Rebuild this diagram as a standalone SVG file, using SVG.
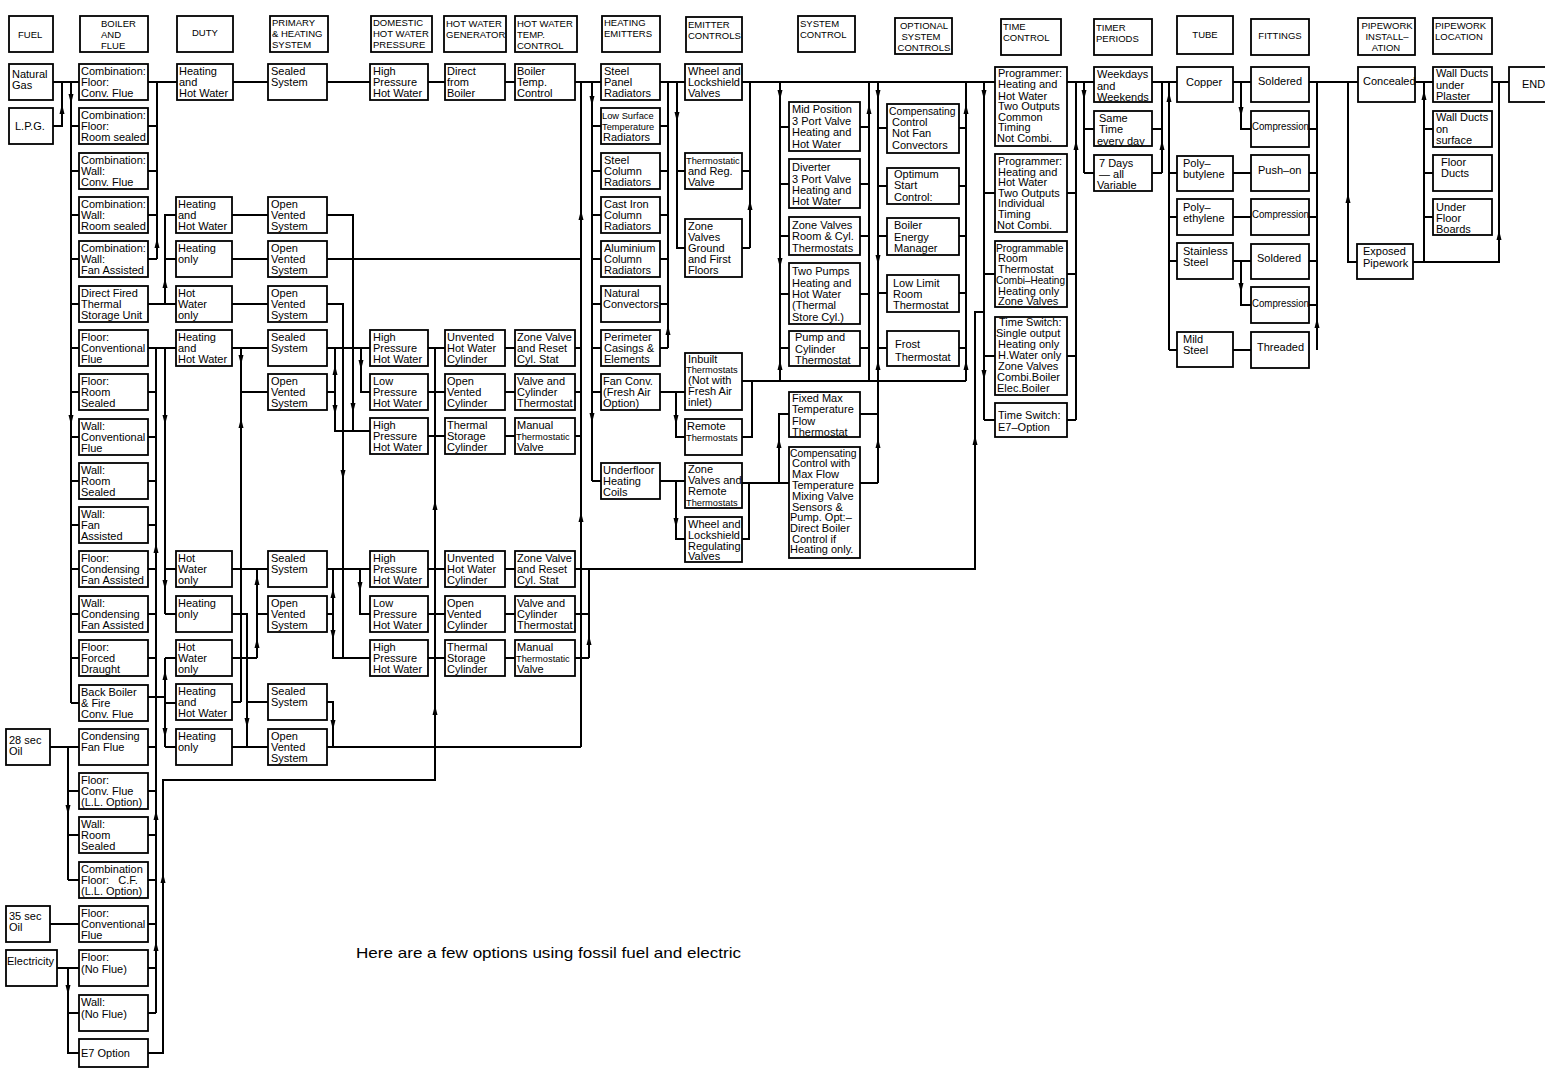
<svg xmlns="http://www.w3.org/2000/svg" xmlns:xlink="http://www.w3.org/1999/xlink" width="1545" height="1074" viewBox="0 0 1545 1074">
<style>
rect{fill:#fff;stroke:#000;stroke-width:1.8}
text{font-family:"Liberation Sans",Arial,sans-serif;font-size:11px;fill:#000}
.h{font-size:9.5px}
.s{font-size:9.3px}
.m{font-size:10.3px}
.cap{font-size:14.5px}
.c path{fill:none;stroke:#000;stroke-width:2}
.ar use{fill:#000}
</style>
<defs>
<path id="ad" d="M-2.5,-10 L2.5,-10 L0,0 Z"/>
<path id="au" d="M-2.5,10 L2.5,10 L0,0 Z"/>
</defs>
<rect x="0" y="0" width="1545" height="1074" style="stroke:none"/>
<g id="connectors" class="c">
<path d="M53,82H79 M53,126H62V82 M71,82V703 M71,126H79 M71,171H79 M71,215H79 M71,259H79 M71,304H79 M71,348H79 M71,392H79 M71,437H79 M71,481H79 M71,525H79 M71,569H79 M71,614H79 M71,658H79 M71,703H79"/>
<path d="M50,747H79 M68,747V880 M68,791H79 M68,835H79 M68,880H79 M50,924H79 M57,968H79 M68,968V1053H79 M68,1013H79"/>
<path d="M148,82H177 M157,82V259 M148,126H157 M148,171H157 M148,215H157 M148,259H157"/>
<path d="M148,304H176 M165,304V215H176 M165,259H176"/>
<path d="M148,348H176 M156,348V1013 M148,392H156 M148,437H156 M148,481H156 M148,525H156 M148,569H156 M148,614H156 M148,658H156 M148,747H156 M148,791H156 M148,835H156 M148,880H156 M148,924H156 M148,968H156 M148,1013H156"/>
<path d="M165,348V614 M165,569H176 M165,614H176"/>
<path d="M148,697H165 M165,658V747 M165,658H176 M165,703H176 M165,747H176"/>
<path d="M148,1053H163V780H435V348"/>
<path d="M233,82H270 M232,215H268 M232,259H268 M232,304H268"/>
<path d="M232,348H268 M241,348V702 M241,392H268 M232,569H268 M232,702H241"/>
<path d="M257,569V658 M257,614H268 M232,658H257"/>
<path d="M232,614H247V747 M247,702H268 M232,747H268"/>
<path d="M327,702H333V747 M327,747H581"/>
<path d="M327,82H370 M327,215H353V431 M327,259H581 M327,304H343V658"/>
<path d="M327,348H370 M335,348V431H370 M327,392H335 M361,348V392H370"/>
<path d="M327,569H370 M333,569V658H370 M327,614H333 M360,569V614H370"/>
<path d="M428,82H445 M505,82H515 M575,82H601 M428,348H445 M428,392H445 M428,436H445 M428,569H445 M428,614H445 M428,658H445 M505,348H515 M505,392H515 M505,436H515 M505,569H515 M505,614H515 M505,658H515"/>
<path d="M575,348H581 M575,392H581 M575,436H581 M581,82V747 M575,569H975V312H984 M589,569V658 M575,614H589 M575,658H589"/>
<path d="M592,82V481 M592,126H601 M592,171H601 M592,215H601 M592,259H601 M592,304H601 M592,348H601 M592,392H601 M592,481H601"/>
<path d="M660,82H685 M668,82V348 M660,126H668 M660,171H668 M660,215H668 M660,259H668 M660,304H668 M660,348H668 M677,82V248H685 M677,171H685"/>
<path d="M742,82H995 M750,82V248 M742,171H750 M742,248H750"/>
<path d="M660,392H685 M676,392V437H685 M742,381H966 M742,437H752V381 M660,481H685 M676,481V539H685 M742,483H789 M742,539H749V483 M779,483V414H789"/>
<path d="M780,82V381 M780,127H789 M780,184H789 M780,236H789 M780,294H789 M780,348H789 M869,82V381 M860,127H869 M860,184H869 M860,236H869 M860,294H869 M860,348H869"/>
<path d="M860,414H878 M860,483H878 M878,82V483 M878,128H887 M878,186H887 M878,236H887 M878,293H887 M878,348H887 M966,82V381 M959,128H966 M959,186H966 M959,236H966 M959,293H966 M959,348H966"/>
<path d="M984,82V420 M984,193H995 M984,274H995 M984,356H995 M984,420H995 M1067,82H1094 M1076,82V420 M1067,193H1076 M1067,274H1076 M1067,356H1076 M1067,420H1076"/>
<path d="M1084,82V173 M1084,129H1094 M1084,173H1094 M1152,82H1177 M1162,82V173 M1152,129H1162 M1152,173H1162"/>
<path d="M1169,82V350 M1169,173H1177 M1169,217H1177 M1169,261H1177 M1169,350H1177 M1233,82H1251 M1241,82V129H1251 M1233,173H1251 M1233,217H1251 M1233,261H1251 M1241,261V305H1251 M1233,350H1251"/>
<path d="M1309,82H1358 M1317,82V350 M1309,129H1317 M1309,173H1317 M1309,217H1317 M1309,261H1317 M1309,305H1317 M1348,82V262H1357"/>
<path d="M1415,82H1433 M1413,262H1499V82 M1424,82V262 M1424,129H1433 M1424,173H1433 M1424,217H1433 M1492,82H1509"/>
<g class="ar">
<use xlink:href="#ad" x="71" y="104"/><use xlink:href="#ad" x="71" y="425"/><use xlink:href="#ad" x="68" y="815"/><use xlink:href="#ad" x="68" y="995"/>
<use xlink:href="#ad" x="165" y="425"/><use xlink:href="#ad" x="165" y="590"/><use xlink:href="#ad" x="165" y="738"/><use xlink:href="#ad" x="241" y="365"/>
<use xlink:href="#ad" x="247" y="728"/><use xlink:href="#ad" x="333" y="730"/><use xlink:href="#ad" x="353" y="413"/><use xlink:href="#ad" x="343" y="480"/>
<use xlink:href="#ad" x="335" y="415"/><use xlink:href="#ad" x="361" y="370"/><use xlink:href="#ad" x="333" y="640"/><use xlink:href="#ad" x="360" y="592"/>
<use xlink:href="#ad" x="592" y="106"/><use xlink:href="#ad" x="592" y="423"/><use xlink:href="#ad" x="677" y="122"/><use xlink:href="#ad" x="676" y="425"/>
<use xlink:href="#ad" x="676" y="528"/><use xlink:href="#ad" x="780" y="100"/><use xlink:href="#ad" x="780" y="268"/><use xlink:href="#ad" x="878" y="100"/>
<use xlink:href="#ad" x="878" y="265"/><use xlink:href="#ad" x="984" y="100"/><use xlink:href="#ad" x="984" y="380"/><use xlink:href="#ad" x="1084" y="100"/>
<use xlink:href="#ad" x="1241" y="117"/><use xlink:href="#ad" x="1241" y="293"/>
<use xlink:href="#au" x="62" y="104"/><use xlink:href="#au" x="157" y="238"/><use xlink:href="#au" x="165" y="278"/><use xlink:href="#au" x="156" y="543"/>
<use xlink:href="#au" x="156" y="810"/><use xlink:href="#au" x="156" y="941"/><use xlink:href="#au" x="165" y="670"/><use xlink:href="#au" x="163" y="873"/>
<use xlink:href="#au" x="435" y="705"/><use xlink:href="#au" x="435" y="500"/><use xlink:href="#au" x="241" y="418"/><use xlink:href="#au" x="257" y="575"/>
<use xlink:href="#au" x="257" y="638"/><use xlink:href="#au" x="335" y="365"/><use xlink:href="#au" x="333" y="588"/><use xlink:href="#au" x="589" y="635"/>
<use xlink:href="#au" x="581" y="210"/><use xlink:href="#au" x="581" y="512"/><use xlink:href="#au" x="975" y="435"/><use xlink:href="#au" x="668" y="325"/>
<use xlink:href="#au" x="750" y="200"/><use xlink:href="#au" x="779" y="438"/><use xlink:href="#au" x="780" y="360"/><use xlink:href="#au" x="869" y="104"/>
<use xlink:href="#au" x="878" y="360"/><use xlink:href="#au" x="878" y="438"/><use xlink:href="#au" x="966" y="104"/><use xlink:href="#au" x="966" y="360"/>
<use xlink:href="#au" x="1076" y="140"/><use xlink:href="#au" x="1162" y="140"/><use xlink:href="#au" x="1169" y="92"/><use xlink:href="#au" x="1317" y="318"/>
<use xlink:href="#au" x="1348" y="193"/><use xlink:href="#au" x="1424" y="90"/><use xlink:href="#au" x="1499" y="230"/>
</g>
</g>
<g id="headers">
<g id="h-fuel"><rect x="9" y="16" width="44" height="36"/><text class="h" x="18" y="38">FUEL</text></g>
<g id="h-boiler"><rect x="80" y="16" width="68" height="36"/><text class="h"><tspan x="101" y="27">BOILER</tspan><tspan x="101" y="38">AND</tspan><tspan x="101" y="49">FLUE</tspan></text></g>
<g id="h-duty"><rect x="177" y="16" width="56" height="36"/><text class="h" x="192" y="36">DUTY</text></g>
<g id="h-primary"><rect x="270" y="16" width="58" height="36"/><text class="h"><tspan x="272" y="26">PRIMARY</tspan><tspan x="272" y="37">&amp; HEATING</tspan><tspan x="272" y="48">SYSTEM</tspan></text></g>
<g id="h-dhw"><rect x="371" y="16" width="61" height="36"/><text class="h"><tspan x="373" y="26">DOMESTIC</tspan><tspan x="373" y="37">HOT WATER</tspan><tspan x="373" y="48">PRESSURE</tspan></text></g>
<g id="h-gen"><rect x="444" y="16" width="62" height="36"/><text class="h"><tspan x="446" y="27">HOT WATER</tspan><tspan x="446" y="38">GENERATOR</tspan></text></g>
<g id="h-temp"><rect x="515" y="16" width="62" height="36"/><text class="h"><tspan x="517" y="27">HOT WATER</tspan><tspan x="517" y="38">TEMP.</tspan><tspan x="517" y="49">CONTROL</tspan></text></g>
<g id="h-emit"><rect x="602" y="16" width="58" height="36"/><text class="h"><tspan x="604" y="26">HEATING</tspan><tspan x="604" y="37">EMITTERS</tspan></text></g>
<g id="h-ectl"><rect x="686" y="17" width="56" height="35"/><text class="h"><tspan x="688" y="28">EMITTER</tspan><tspan x="688" y="39">CONTROLS</tspan></text></g>
<g id="h-sys"><rect x="798" y="16" width="57" height="36"/><text class="h"><tspan x="800" y="27">SYSTEM</tspan><tspan x="800" y="38">CONTROL</tspan></text></g>
<g id="h-opt"><rect x="895" y="18" width="57" height="36"/><text class="h" text-anchor="middle"><tspan x="924" y="29">OPTIONAL</tspan><tspan x="921" y="40">SYSTEM</tspan><tspan x="924" y="51">CONTROLS</tspan></text></g>
<g id="h-time"><rect x="1001" y="19" width="60" height="36"/><text class="h"><tspan x="1003" y="30">TIME</tspan><tspan x="1003" y="41">CONTROL</tspan></text></g>
<g id="h-timer"><rect x="1094" y="19" width="58" height="36"/><text class="h"><tspan x="1096" y="31">TIMER</tspan><tspan x="1096" y="42">PERIODS</tspan></text></g>
<g id="h-tube"><rect x="1177" y="16" width="56" height="38"/><text class="h" x="1205" y="38" text-anchor="middle">TUBE</text></g>
<g id="h-fit"><rect x="1251" y="19" width="58" height="36"/><text class="h" x="1280" y="39" text-anchor="middle">FITTINGS</text></g>
<g id="h-pinst"><rect x="1358" y="18" width="57" height="37"/><text class="h" text-anchor="middle"><tspan x="1387" y="29">PIPEWORK</tspan><tspan x="1387" y="40">INSTALL–</tspan><tspan x="1386" y="51">ATION</tspan></text></g>
<g id="h-ploc"><rect x="1433" y="18" width="59" height="36"/><text class="h"><tspan x="1435" y="29">PIPEWORK</tspan><tspan x="1435" y="40">LOCATION</tspan></text></g>
</g>
<g id="fuel">
<g id="f-ng"><rect x="9" y="64" width="44" height="36"/><text><tspan x="12" y="78">Natural</tspan><tspan x="12" y="89">Gas</tspan></text></g>
<g id="f-lpg"><rect x="9" y="108" width="44" height="36"/><text x="15" y="130">L.P.G.</text></g>
<g id="f-28"><rect x="6" y="729" width="44" height="36"/><text><tspan x="9" y="744">28 sec</tspan><tspan x="9" y="755">Oil</tspan></text></g>
<g id="f-35"><rect x="6" y="906" width="44" height="36"/><text><tspan x="9" y="920">35 sec</tspan><tspan x="9" y="931">Oil</tspan></text></g>
<g id="f-el"><rect x="6" y="950" width="51" height="36"/><text x="7" y="965">Electricity</text></g>
</g>
<g id="boilers">
<g id="b01"><rect x="79" y="64" width="69" height="36"/><text><tspan x="81" y="75">Combination:</tspan><tspan x="81" y="86">Floor:</tspan><tspan x="81" y="97">Conv. Flue</tspan></text></g>
<g id="b02"><rect x="79" y="108" width="69" height="36"/><text><tspan x="81" y="119">Combination:</tspan><tspan x="81" y="130">Floor:</tspan><tspan x="81" y="141">Room sealed</tspan></text></g>
<g id="b03"><rect x="79" y="153" width="69" height="36"/><text><tspan x="81" y="164">Combination:</tspan><tspan x="81" y="175">Wall:</tspan><tspan x="81" y="186">Conv. Flue</tspan></text></g>
<g id="b04"><rect x="79" y="197" width="69" height="36"/><text><tspan x="81" y="208">Combination:</tspan><tspan x="81" y="219">Wall:</tspan><tspan x="81" y="230">Room sealed</tspan></text></g>
<g id="b05"><rect x="79" y="241" width="69" height="36"/><text><tspan x="81" y="252">Combination:</tspan><tspan x="81" y="263">Wall:</tspan><tspan x="81" y="274">Fan Assisted</tspan></text></g>
<g id="b06"><rect x="79" y="286" width="69" height="36"/><text><tspan x="81" y="297">Direct Fired</tspan><tspan x="81" y="308">Thermal</tspan><tspan x="81" y="319">Storage Unit</tspan></text></g>
<g id="b07"><rect x="79" y="330" width="69" height="36"/><text><tspan x="81" y="341">Floor:</tspan><tspan x="81" y="352">Conventional</tspan><tspan x="81" y="363">Flue</tspan></text></g>
<g id="b08"><rect x="79" y="374" width="69" height="36"/><text><tspan x="81" y="385">Floor:</tspan><tspan x="81" y="396">Room</tspan><tspan x="81" y="407">Sealed</tspan></text></g>
<g id="b09"><rect x="79" y="419" width="69" height="36"/><text><tspan x="81" y="430">Wall:</tspan><tspan x="81" y="441">Conventional</tspan><tspan x="81" y="452">Flue</tspan></text></g>
<g id="b10"><rect x="79" y="463" width="69" height="36"/><text><tspan x="81" y="474">Wall:</tspan><tspan x="81" y="485">Room</tspan><tspan x="81" y="496">Sealed</tspan></text></g>
<g id="b11"><rect x="79" y="507" width="69" height="36"/><text><tspan x="81" y="518">Wall:</tspan><tspan x="81" y="529">Fan</tspan><tspan x="81" y="540">Assisted</tspan></text></g>
<g id="b12"><rect x="79" y="551" width="69" height="36"/><text><tspan x="81" y="562">Floor:</tspan><tspan x="81" y="573">Condensing</tspan><tspan x="81" y="584">Fan Assisted</tspan></text></g>
<g id="b13"><rect x="79" y="596" width="69" height="36"/><text><tspan x="81" y="607">Wall:</tspan><tspan x="81" y="618">Condensing</tspan><tspan x="81" y="629">Fan Assisted</tspan></text></g>
<g id="b14"><rect x="79" y="640" width="69" height="36"/><text><tspan x="81" y="651">Floor:</tspan><tspan x="81" y="662">Forced</tspan><tspan x="81" y="673">Draught</tspan></text></g>
<g id="b15"><rect x="79" y="685" width="69" height="36"/><text><tspan x="81" y="696">Back Boiler</tspan><tspan x="81" y="707">&amp; Fire</tspan><tspan x="81" y="718">Conv. Flue</tspan></text></g>
<g id="b16"><rect x="79" y="729" width="69" height="36"/><text><tspan x="81" y="740">Condensing</tspan><tspan x="81" y="751">Fan Flue</tspan></text></g>
<g id="b17"><rect x="79" y="773" width="69" height="36"/><text><tspan x="81" y="784">Floor:</tspan><tspan x="81" y="795">Conv. Flue</tspan><tspan x="81" y="806">(L.L. Option)</tspan></text></g>
<g id="b18"><rect x="79" y="817" width="69" height="36"/><text><tspan x="81" y="828">Wall:</tspan><tspan x="81" y="839">Room</tspan><tspan x="81" y="850">Sealed</tspan></text></g>
<g id="b19"><rect x="79" y="862" width="69" height="36"/><text><tspan x="81" y="873">Combination</tspan><tspan x="81" y="884">Floor:&#160;&#160;&#160;C.F.</tspan><tspan x="81" y="895">(L.L. Option)</tspan></text></g>
<g id="b20"><rect x="79" y="906" width="69" height="36"/><text><tspan x="81" y="917">Floor:</tspan><tspan x="81" y="928">Conventional</tspan><tspan x="81" y="939">Flue</tspan></text></g>
<g id="b21"><rect x="79" y="950" width="69" height="36"/><text><tspan x="81" y="961">Floor:</tspan><tspan x="81" y="973">(No Flue)</tspan></text></g>
<g id="b22"><rect x="79" y="995" width="69" height="36"/><text><tspan x="81" y="1006">Wall:</tspan><tspan x="81" y="1018">(No Flue)</tspan></text></g>
<g id="b23"><rect x="79" y="1039" width="69" height="28"/><text x="81" y="1057">E7 Option</text></g>
</g>
<g id="duty">
<g id="d01"><rect x="177" y="64" width="56" height="36"/><text><tspan x="179" y="75">Heating</tspan><tspan x="179" y="86">and</tspan><tspan x="179" y="97">Hot Water</tspan></text></g>
<g id="d02"><rect x="176" y="197" width="56" height="36"/><text><tspan x="178" y="208">Heating</tspan><tspan x="178" y="219">and</tspan><tspan x="178" y="230">Hot Water</tspan></text></g>
<g id="d03"><rect x="176" y="241" width="56" height="36"/><text><tspan x="178" y="252">Heating</tspan><tspan x="178" y="263">only</tspan></text></g>
<g id="d04"><rect x="176" y="286" width="56" height="36"/><text><tspan x="178" y="297">Hot</tspan><tspan x="178" y="308">Water</tspan><tspan x="178" y="319">only</tspan></text></g>
<g id="d05"><rect x="176" y="330" width="56" height="36"/><text><tspan x="178" y="341">Heating</tspan><tspan x="178" y="352">and</tspan><tspan x="178" y="363">Hot Water</tspan></text></g>
<g id="d06"><rect x="176" y="551" width="56" height="36"/><text><tspan x="178" y="562">Hot</tspan><tspan x="178" y="573">Water</tspan><tspan x="178" y="584">only</tspan></text></g>
<g id="d07"><rect x="176" y="596" width="56" height="36"/><text><tspan x="178" y="607">Heating</tspan><tspan x="178" y="618">only</tspan></text></g>
<g id="d08"><rect x="176" y="640" width="56" height="36"/><text><tspan x="178" y="651">Hot</tspan><tspan x="178" y="662">Water</tspan><tspan x="178" y="673">only</tspan></text></g>
<g id="d09"><rect x="176" y="684" width="56" height="36"/><text><tspan x="178" y="695">Heating</tspan><tspan x="178" y="706">and</tspan><tspan x="178" y="717">Hot Water</tspan></text></g>
<g id="d10"><rect x="176" y="729" width="56" height="36"/><text><tspan x="178" y="740">Heating</tspan><tspan x="178" y="751">only</tspan></text></g>
</g>
<g id="primary">
<g id="p01"><rect x="268" y="64" width="59" height="36"/><text><tspan x="271" y="75">Sealed</tspan><tspan x="271" y="86">System</tspan></text></g>
<g id="p02"><rect x="268" y="197" width="59" height="36"/><text><tspan x="271" y="208">Open</tspan><tspan x="271" y="219">Vented</tspan><tspan x="271" y="230">System</tspan></text></g>
<g id="p03"><rect x="268" y="241" width="59" height="36"/><text><tspan x="271" y="252">Open</tspan><tspan x="271" y="263">Vented</tspan><tspan x="271" y="274">System</tspan></text></g>
<g id="p04"><rect x="268" y="286" width="59" height="36"/><text><tspan x="271" y="297">Open</tspan><tspan x="271" y="308">Vented</tspan><tspan x="271" y="319">System</tspan></text></g>
<g id="p05"><rect x="268" y="330" width="59" height="36"/><text><tspan x="271" y="341">Sealed</tspan><tspan x="271" y="352">System</tspan></text></g>
<g id="p06"><rect x="268" y="374" width="59" height="36"/><text><tspan x="271" y="385">Open</tspan><tspan x="271" y="396">Vented</tspan><tspan x="271" y="407">System</tspan></text></g>
<g id="p07"><rect x="268" y="551" width="59" height="36"/><text><tspan x="271" y="562">Sealed</tspan><tspan x="271" y="573">System</tspan></text></g>
<g id="p08"><rect x="268" y="596" width="59" height="36"/><text><tspan x="271" y="607">Open</tspan><tspan x="271" y="618">Vented</tspan><tspan x="271" y="629">System</tspan></text></g>
<g id="p09"><rect x="268" y="684" width="59" height="36"/><text><tspan x="271" y="695">Sealed</tspan><tspan x="271" y="706">System</tspan></text></g>
<g id="p10"><rect x="268" y="729" width="59" height="36"/><text><tspan x="271" y="740">Open</tspan><tspan x="271" y="751">Vented</tspan><tspan x="271" y="762">System</tspan></text></g>
</g>
<g id="dhw">
<g id="w01"><rect x="370" y="64" width="58" height="36"/><text><tspan x="373" y="75">High</tspan><tspan x="373" y="86">Pressure</tspan><tspan x="373" y="97">Hot Water</tspan></text></g>
<g id="w02"><rect x="370" y="330" width="58" height="36"/><text><tspan x="373" y="341">High</tspan><tspan x="373" y="352">Pressure</tspan><tspan x="373" y="363">Hot Water</tspan></text></g>
<g id="w03"><rect x="370" y="374" width="58" height="36"/><text><tspan x="373" y="385">Low</tspan><tspan x="373" y="396">Pressure</tspan><tspan x="373" y="407">Hot Water</tspan></text></g>
<g id="w04"><rect x="370" y="418" width="58" height="36"/><text><tspan x="373" y="429">High</tspan><tspan x="373" y="440">Pressure</tspan><tspan x="373" y="451">Hot Water</tspan></text></g>
<g id="w05"><rect x="370" y="551" width="58" height="36"/><text><tspan x="373" y="562">High</tspan><tspan x="373" y="573">Pressure</tspan><tspan x="373" y="584">Hot Water</tspan></text></g>
<g id="w06"><rect x="370" y="596" width="58" height="36"/><text><tspan x="373" y="607">Low</tspan><tspan x="373" y="618">Pressure</tspan><tspan x="373" y="629">Hot Water</tspan></text></g>
<g id="w07"><rect x="370" y="640" width="58" height="36"/><text><tspan x="373" y="651">High</tspan><tspan x="373" y="662">Pressure</tspan><tspan x="373" y="673">Hot Water</tspan></text></g>
</g>
<g id="generator">
<g id="g01"><rect x="445" y="64" width="60" height="36"/><text><tspan x="447" y="75">Direct</tspan><tspan x="447" y="86">from</tspan><tspan x="447" y="97">Boiler</tspan></text></g>
<g id="g02"><rect x="445" y="330" width="60" height="36"/><text><tspan x="447" y="341">Unvented</tspan><tspan x="447" y="352">Hot Water</tspan><tspan x="447" y="363">Cylinder</tspan></text></g>
<g id="g03"><rect x="445" y="374" width="60" height="36"/><text><tspan x="447" y="385">Open</tspan><tspan x="447" y="396">Vented</tspan><tspan x="447" y="407">Cylinder</tspan></text></g>
<g id="g04"><rect x="445" y="418" width="60" height="36"/><text><tspan x="447" y="429">Thermal</tspan><tspan x="447" y="440">Storage</tspan><tspan x="447" y="451">Cylinder</tspan></text></g>
<g id="g05"><rect x="445" y="551" width="60" height="36"/><text><tspan x="447" y="562">Unvented</tspan><tspan x="447" y="573">Hot Water</tspan><tspan x="447" y="584">Cylinder</tspan></text></g>
<g id="g06"><rect x="445" y="596" width="60" height="36"/><text><tspan x="447" y="607">Open</tspan><tspan x="447" y="618">Vented</tspan><tspan x="447" y="629">Cylinder</tspan></text></g>
<g id="g07"><rect x="445" y="640" width="60" height="36"/><text><tspan x="447" y="651">Thermal</tspan><tspan x="447" y="662">Storage</tspan><tspan x="447" y="673">Cylinder</tspan></text></g>
</g>
<g id="tempcontrol">
<g id="t01"><rect x="515" y="64" width="60" height="36"/><text><tspan x="517" y="75">Boiler</tspan><tspan x="517" y="86">Temp.</tspan><tspan x="517" y="97">Control</tspan></text></g>
<g id="t02"><rect x="515" y="330" width="60" height="36"/><text><tspan x="517" y="341">Zone Valve</tspan><tspan x="517" y="352">and Reset</tspan><tspan x="517" y="363">Cyl. Stat</tspan></text></g>
<g id="t03"><rect x="515" y="374" width="60" height="36"/><text><tspan x="517" y="385">Valve and</tspan><tspan x="517" y="396">Cylinder</tspan><tspan x="517" y="407">Thermostat</tspan></text></g>
<g id="t04"><rect x="515" y="418" width="60" height="36"/><text><tspan x="517" y="429">Manual</tspan><tspan class="s" x="516" y="440">Thermostatic</tspan><tspan x="517" y="451">Valve</tspan></text></g>
<g id="t05"><rect x="515" y="551" width="60" height="36"/><text><tspan x="517" y="562">Zone Valve</tspan><tspan x="517" y="573">and Reset</tspan><tspan x="517" y="584">Cyl. Stat</tspan></text></g>
<g id="t06"><rect x="515" y="596" width="60" height="36"/><text><tspan x="517" y="607">Valve and</tspan><tspan x="517" y="618">Cylinder</tspan><tspan x="517" y="629">Thermostat</tspan></text></g>
<g id="t07"><rect x="515" y="640" width="60" height="36"/><text><tspan x="517" y="651">Manual</tspan><tspan class="s" x="516" y="662">Thermostatic</tspan><tspan x="517" y="673">Valve</tspan></text></g>
</g>
<g id="emitters">
<g id="e01"><rect x="601" y="64" width="59" height="36"/><text><tspan x="604" y="75">Steel</tspan><tspan x="604" y="86">Panel</tspan><tspan x="604" y="97">Radiators</tspan></text></g>
<g id="e02"><rect x="601" y="108" width="59" height="36"/><text><tspan class="s" x="602" y="119">Low Surface</tspan><tspan class="s" x="602" y="130">Temperature</tspan><tspan x="603" y="141">Radiators</tspan></text></g>
<g id="e03"><rect x="601" y="153" width="59" height="36"/><text><tspan x="604" y="164">Steel</tspan><tspan x="604" y="175">Column</tspan><tspan x="604" y="186">Radiators</tspan></text></g>
<g id="e04"><rect x="601" y="197" width="59" height="36"/><text><tspan x="604" y="208">Cast Iron</tspan><tspan x="604" y="219">Column</tspan><tspan x="604" y="230">Radiators</tspan></text></g>
<g id="e05"><rect x="601" y="241" width="59" height="36"/><text><tspan x="604" y="252">Aluminium</tspan><tspan x="604" y="263">Column</tspan><tspan x="604" y="274">Radiators</tspan></text></g>
<g id="e06"><rect x="601" y="286" width="59" height="36"/><text><tspan x="604" y="297">Natural</tspan><tspan x="603" y="308">Convectors</tspan></text></g>
<g id="e07"><rect x="601" y="330" width="59" height="36"/><text><tspan x="604" y="341">Perimeter</tspan><tspan x="604" y="352">Casings &amp;</tspan><tspan x="604" y="363">Elements</tspan></text></g>
<g id="e08"><rect x="601" y="374" width="59" height="36"/><text><tspan x="603" y="385">Fan Conv.</tspan><tspan x="603" y="396">(Fresh Air</tspan><tspan x="603" y="407">Option)</tspan></text></g>
<g id="e09"><rect x="601" y="463" width="59" height="36"/><text><tspan x="603" y="474">Underfloor</tspan><tspan x="603" y="485">Heating</tspan><tspan x="603" y="496">Coils</tspan></text></g>
</g>
<g id="emittercontrols">
<g id="c01"><rect x="685" y="64" width="57" height="36"/><text><tspan x="688" y="75">Wheel and</tspan><tspan x="688" y="86">Lockshield</tspan><tspan x="688" y="97">Valves</tspan></text></g>
<g id="c02"><rect x="685" y="153" width="57" height="36"/><text><tspan class="s" x="686" y="164">Thermostatic</tspan><tspan x="688" y="175">and Reg.</tspan><tspan x="688" y="186">Valve</tspan></text></g>
<g id="c03"><rect x="685" y="219" width="57" height="58"/><text><tspan x="688" y="230">Zone</tspan><tspan x="688" y="241">Valves</tspan><tspan x="688" y="252">Ground</tspan><tspan x="688" y="263">and First</tspan><tspan x="688" y="274">Floors</tspan></text></g>
<g id="c04"><rect x="685" y="353" width="57" height="57"/><text><tspan x="688" y="363">Inbuilt</tspan><tspan class="s" x="686" y="373">Thermostats</tspan><tspan x="688" y="384">(Not with</tspan><tspan x="688" y="395">Fresh Air</tspan><tspan x="688" y="406">inlet)</tspan></text></g>
<g id="c05"><rect x="685" y="419" width="57" height="36"/><text><tspan x="687" y="430">Remote</tspan><tspan class="s" x="686" y="441">Thermostats</tspan></text></g>
<g id="c06"><rect x="685" y="463" width="57" height="45"/><text><tspan x="688" y="473">Zone</tspan><tspan x="688" y="484">Valves and</tspan><tspan x="688" y="495">Remote</tspan><tspan class="s" x="686" y="506">Thermostats</tspan></text></g>
<g id="c07"><rect x="685" y="517" width="57" height="45"/><text><tspan x="688" y="528">Wheel and</tspan><tspan x="688" y="539">Lockshield</tspan><tspan x="688" y="550">Regulating</tspan><tspan x="688" y="560">Valves</tspan></text></g>
</g>
<g id="systemcontrol">
<g id="s01"><rect x="789" y="102" width="71" height="49"/><text><tspan x="792" y="113">Mid Position</tspan><tspan x="792" y="125">3 Port Valve</tspan><tspan x="792" y="136">Heating and</tspan><tspan x="792" y="148">Hot Water</tspan></text></g>
<g id="s02"><rect x="789" y="159" width="71" height="49"/><text><tspan x="792" y="171">Diverter</tspan><tspan x="792" y="183">3 Port Valve</tspan><tspan x="792" y="194">Heating and</tspan><tspan x="792" y="205">Hot Water</tspan></text></g>
<g id="s03"><rect x="789" y="217" width="71" height="38"/><text><tspan x="792" y="229">Zone Valves</tspan><tspan x="792" y="240">Room &amp; Cyl.</tspan><tspan x="792" y="252">Thermostats</tspan></text></g>
<g id="s04"><rect x="789" y="263" width="71" height="61"/><text><tspan x="792" y="275">Two Pumps</tspan><tspan x="792" y="287">Heating and</tspan><tspan x="792" y="298">Hot Water</tspan><tspan x="792" y="309">(Thermal</tspan><tspan x="792" y="321">Store Cyl.)</tspan></text></g>
<g id="s05"><rect x="789" y="331" width="71" height="35"/><text><tspan x="795" y="341">Pump and</tspan><tspan x="795" y="353">Cylinder</tspan><tspan x="795" y="364">Thermostat</tspan></text></g>
<g id="s06"><rect x="789" y="392" width="71" height="45"/><text><tspan x="792" y="402">Fixed Max</tspan><tspan x="792" y="413">Temperature</tspan><tspan x="792" y="425">Flow</tspan><tspan x="792" y="436">Thermostat</tspan></text></g>
<g id="s07"><rect x="789" y="447" width="71" height="111"/><text><tspan class="m" x="790" y="457">Compensating</tspan><tspan x="792" y="467">Control with</tspan><tspan x="792" y="478">Max Flow</tspan><tspan x="792" y="489">Temperature</tspan><tspan x="792" y="500">Mixing Valve</tspan><tspan x="792" y="511">Sensors &amp;</tspan><tspan x="790" y="521">Pump. Opt:–</tspan><tspan x="790" y="532">Direct Boiler</tspan><tspan x="792" y="543">Control if</tspan><tspan x="790" y="553">Heating only.</tspan></text></g>
</g>
<g id="optionalcontrols">
<g id="o01"><rect x="887" y="104" width="72" height="49"/><text><tspan class="m" x="889" y="115">Compensating</tspan><tspan x="892" y="126">Control</tspan><tspan x="892" y="137">Not Fan</tspan><tspan x="892" y="149">Convectors</tspan></text></g>
<g id="o02"><rect x="887" y="168" width="72" height="36"/><text><tspan x="894" y="178">Optimum</tspan><tspan x="894" y="189">Start</tspan><tspan x="894" y="201">Control:</tspan></text></g>
<g id="o03"><rect x="887" y="218" width="72" height="37"/><text><tspan x="894" y="229">Boiler</tspan><tspan x="894" y="241">Energy</tspan><tspan x="894" y="252">Manager</tspan></text></g>
<g id="o04"><rect x="887" y="275" width="72" height="37"/><text><tspan x="893" y="287">Low Limit</tspan><tspan x="893" y="298">Room</tspan><tspan x="893" y="309">Thermostat</tspan></text></g>
<g id="o05"><rect x="887" y="331" width="72" height="35"/><text><tspan x="895" y="348">Frost</tspan><tspan x="895" y="361">Thermostat</tspan></text></g>
</g>
<g id="timecontrol">
<g id="tc1"><rect x="995" y="67" width="72" height="79"/><text><tspan x="998" y="77">Programmer:</tspan><tspan x="998" y="88">Heating and</tspan><tspan x="998" y="100">Hot Water</tspan><tspan x="998" y="110">Two Outputs</tspan><tspan x="998" y="121">Common</tspan><tspan x="998" y="131">Timing</tspan><tspan x="997" y="142">Not Combi.</tspan></text></g>
<g id="tc2"><rect x="995" y="154" width="72" height="78"/><text><tspan x="998" y="165">Programmer:</tspan><tspan x="998" y="176">Heating and</tspan><tspan x="998" y="186">Hot Water</tspan><tspan x="998" y="197">Two Outputs</tspan><tspan x="998" y="207">Individual</tspan><tspan x="998" y="218">Timing</tspan><tspan x="997" y="229">Not Combi.</tspan></text></g>
<g id="tc3"><rect x="995" y="241" width="72" height="66"/><text><tspan class="m" x="996" y="252">Programmable</tspan><tspan x="998" y="262">Room</tspan><tspan x="998" y="273">Thermostat</tspan><tspan class="m" x="996" y="284" textLength="69" lengthAdjust="spacingAndGlyphs">Combi–Heating</tspan><tspan x="998" y="295">Heating only</tspan><tspan x="998" y="305">Zone Valves</tspan></text></g>
<g id="tc4"><rect x="995" y="317" width="72" height="78"/><text><tspan x="999" y="326">Time Switch:</tspan><tspan x="996" y="337">Single output</tspan><tspan x="998" y="348">Heating only</tspan><tspan x="998" y="359">H.Water only</tspan><tspan x="998" y="370">Zone Valves</tspan><tspan x="997" y="381">Combi.Boiler</tspan><tspan x="997" y="392">Elec.Boiler</tspan></text></g>
<g id="tc5"><rect x="995" y="403" width="72" height="34"/><text><tspan x="998" y="419">Time Switch:</tspan><tspan x="998" y="431">E7–Option</tspan></text></g>
</g>
<g id="timerperiods">
<g id="tp1"><rect x="1094" y="67" width="58" height="35"/><text><tspan x="1097" y="78">Weekdays</tspan><tspan x="1097" y="90">and</tspan><tspan x="1097" y="101">Weekends</tspan></text></g>
<g id="tp2"><rect x="1094" y="111" width="58" height="35"/><text><tspan x="1099" y="122">Same</tspan><tspan x="1099" y="133">Time</tspan><tspan x="1097" y="145">every day</tspan></text></g>
<g id="tp3"><rect x="1094" y="155" width="58" height="36"/><text><tspan x="1099" y="167">7 Days</tspan><tspan x="1099" y="178">— all</tspan><tspan x="1097" y="189">Variable</tspan></text></g>
</g>
<g id="tube">
<g id="tu1"><rect x="1177" y="67" width="56" height="35"/><text x="1186" y="86">Copper</text></g>
<g id="tu2"><rect x="1177" y="156" width="56" height="35"/><text><tspan x="1183" y="167">Poly–</tspan><tspan x="1183" y="178">butylene</tspan></text></g>
<g id="tu3"><rect x="1177" y="199" width="56" height="36"/><text><tspan x="1183" y="211">Poly–</tspan><tspan x="1183" y="222">ethylene</tspan></text></g>
<g id="tu4"><rect x="1177" y="243" width="56" height="36"/><text><tspan x="1183" y="255">Stainless</tspan><tspan x="1183" y="266">Steel</tspan></text></g>
<g id="tu5"><rect x="1177" y="332" width="56" height="35"/><text><tspan x="1183" y="343">Mild</tspan><tspan x="1183" y="354">Steel</tspan></text></g>
</g>
<g id="fittings">
<g id="fi1"><rect x="1251" y="67" width="58" height="35"/><text x="1258" y="85">Soldered</text></g>
<g id="fi2"><rect x="1251" y="111" width="58" height="36"/><text x="1252" y="130" textLength="57" lengthAdjust="spacingAndGlyphs">Compression</text></g>
<g id="fi3"><rect x="1251" y="155" width="58" height="36"/><text x="1258" y="174">Push–on</text></g>
<g id="fi4"><rect x="1251" y="199" width="58" height="36"/><text x="1252" y="218" textLength="57" lengthAdjust="spacingAndGlyphs">Compression</text></g>
<g id="fi5"><rect x="1251" y="244" width="58" height="35"/><text x="1257" y="262">Soldered</text></g>
<g id="fi6"><rect x="1251" y="287" width="58" height="36"/><text x="1252" y="307" textLength="57" lengthAdjust="spacingAndGlyphs">Compression</text></g>
<g id="fi7"><rect x="1251" y="332" width="58" height="36"/><text x="1257" y="351">Threaded</text></g>
</g>
<g id="pipeworkinstall">
<g id="pi1"><rect x="1358" y="67" width="57" height="35"/><text x="1363" y="85">Concealed</text></g>
<g id="pi2"><rect x="1357" y="244" width="56" height="35"/><text><tspan x="1363" y="255">Exposed</tspan><tspan x="1363" y="267">Pipework</tspan></text></g>
</g>
<g id="pipeworklocation">
<g id="lo1"><rect x="1433" y="67" width="59" height="35"/><text><tspan x="1436" y="77">Wall Ducts</tspan><tspan x="1436" y="89">under</tspan><tspan x="1436" y="100">Plaster</tspan></text></g>
<g id="lo2"><rect x="1433" y="111" width="59" height="36"/><text><tspan x="1436" y="121">Wall Ducts</tspan><tspan x="1436" y="133">on</tspan><tspan x="1436" y="144">surface</tspan></text></g>
<g id="lo3"><rect x="1433" y="155" width="59" height="36"/><text><tspan x="1441" y="166">Floor</tspan><tspan x="1441" y="177">Ducts</tspan></text></g>
<g id="lo4"><rect x="1433" y="199" width="59" height="36"/><text><tspan x="1436" y="211">Under</tspan><tspan x="1436" y="222">Floor</tspan><tspan x="1436" y="233">Boards</tspan></text></g>
</g>
<g id="end"><rect x="1509" y="67" width="40" height="35"/><text x="1522" y="88">END</text></g>
<text class="cap" x="356" y="958" textLength="385" lengthAdjust="spacingAndGlyphs">Here are a few options using fossil fuel and electric</text>
</svg>
